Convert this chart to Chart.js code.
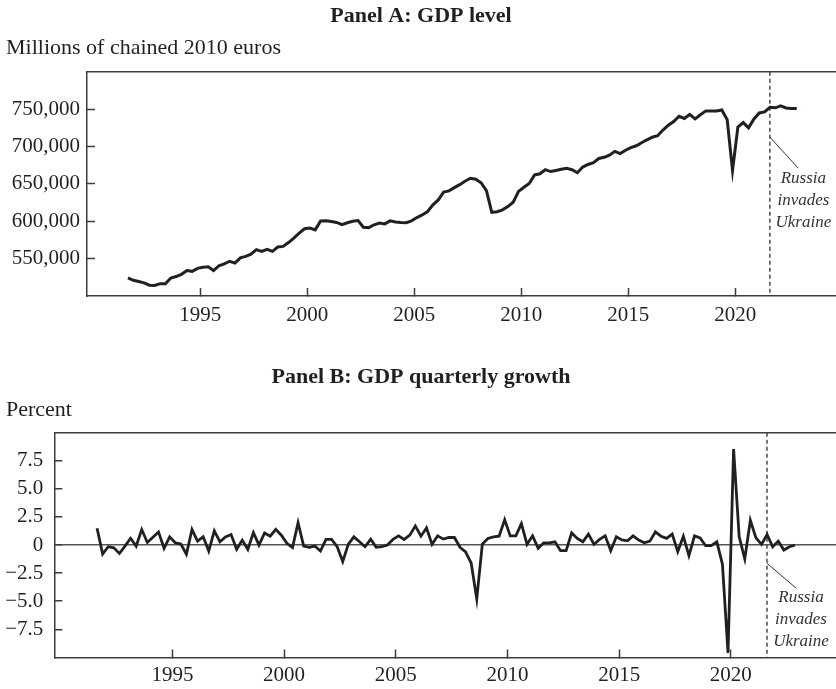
<!DOCTYPE html>
<html>
<head>
<meta charset="utf-8">
<script src="https://cdn.jsdelivr.net/npm/chart.js@4/dist/chart.umd.min.js"></script>
<style>
html,body{margin:0;padding:0;background:#fff;}
#wrap{position:relative;width:836px;height:689px;overflow:hidden;}
canvas{position:absolute;left:0;}
#ca{top:0;}
#cb{top:340px;}
</style>
</head>
<body>
<div id="wrap">
<canvas id="ca" width="836" height="340"></canvas>
<canvas id="cb" width="836" height="349"></canvas>
</div>
<script>
// ---------------- DATA ----------------
const firstYear = 1992;            // first quarter shown: 1992 Q1
// GDP level, millions of chained 2010 euros (quarterly, 1992Q1 ... 2023Q2)
const gdpLevel = [
  524300,521000,519500,517600, 514500,514000,516500,516300,
  524000,526000,529000,534000, 533000,537000,538500,539000,
  534000,540500,543000,546500, 544000,551000,553000,556000,
  562000,559700,562500,559700, 565500,566400,571500,577500,
  584000,590000,591000,588500, 600500,600700,599800,598400,
  595500,598000,600000,601000, 592000,591500,595300,597500,
  596500,600500,599000,598300, 598000,600500,605000,608500,
  613000,622000,628500,639000, 640700,645000,649000,653500,
  657500,656200,651500,641000, 612000,612700,615300,619700,
  625500,640000,645500,650500, 662000,663500,669000,666500,
  668000,669500,671000,669000, 665000,672500,676000,678500,
  684000,685600,688500,693500, 690500,695000,698500,701000,
  705000,709000,712500,714400, 722000,728500,733500,740500,
  737600,743000,737000,742500, 747700,747700,747700,749000,
  736000,668000,726000,732000, 725000,737000,745000,746400,
  752500,751800,754300,751600, 751000,750900
];
// GDP quarterly growth, percent
const gdpGrowth = [
  1.5,-0.8,-0.15,-0.25, -0.75,-0.1,0.6,-0.1,
  1.38,0.23,0.7,1.17, -0.29,0.73,0.2,0.09,
  -0.82,1.38,0.35,0.73, -0.53,1.26,0.29,0.73,
  0.94,-0.38,0.44,-0.38, 1.11,0,1.08,0.79,
  1.4,0.88,0.15,-0.23, 1.99,-0.09,-0.2,-0.09,
  -0.53,0.5,0.5,-0.15, -1.46,0.09,0.73,0.29,
  -0.15,0.53,-0.2,-0.15, 0,0.5,0.82,0.5,
  0.88,1.7,0.79,1.52, 0.06,0.82,0.53,0.67,
  0.67,-0.2,-0.6,-1.6, -4.8,0.09,0.59,0.73,
  0.79,2.25,0.82,0.82, 1.9,0.06,0.82,-0.29,
  0.2,0.2,0.29,-0.5, -0.5,1.08,0.59,0.29,
  0.97,0.06,0.5,0.82, -0.5,0.73,0.45,0.38,
  0.82,0.44,0.2,0.35, 1.17,0.79,0.59,0.97,
  -0.59,0.79,-0.94,0.82, 0.64,-0.06,-0.06,0.29,
  -1.7,-9.6,8.55,0.73, -1.23,2.2,0.64,0.06,
  0.94,-0.15,0.35,-0.44, -0.15,0
];
const xTickYears = [1995, 2000, 2005, 2010, 2015, 2020];
const yTicksLevel = [550000, 600000, 650000, 700000, 750000];
const yTicksGrowth = [-7.5, -5.0, -2.5, 0, 2.5, 5.0, 7.5];
const invasionTime = 2022.12;      // late February 2022
const annotationLines = ['Russia', 'invades', 'Ukraine'];
const xRange = [1990.21, 2025.21];

// quarter categories -> time position (mid-quarter)
const quarterTimes = gdpLevel.map((_, i) => firstYear + Math.floor(i / 4) + ((i % 4) + 0.5) / 4);

// ---------------- STYLE ----------------
const serif = "'Liberation Serif','Times New Roman',Times,serif";
const ink = '#231f20';
const axisCol = '#3d3d3d';
Chart.defaults.font.family = serif;
Chart.defaults.color = ink;

const invasionPlugin = {
  id: 'invasion',
  beforeDatasetsDraw(chart, args, o) {
    const {ctx, chartArea: a} = chart;
    const px = chart.scales.x.getPixelForValue(invasionTime);
    ctx.save();
    ctx.strokeStyle = '#4a4a4a';
    ctx.lineWidth = 1.5;
    ctx.setLineDash([4, 3]);
    ctx.beginPath(); ctx.moveTo(px, a.top); ctx.lineTo(px, a.bottom); ctx.stroke();
    ctx.setLineDash([]);
    ctx.lineWidth = 1;
    ctx.strokeStyle = '#333';
    ctx.beginPath();
    ctx.moveTo(px, a.top + o.leadTop);
    ctx.lineTo(px + o.leadDx, a.top + o.leadBottom);
    ctx.stroke();
    ctx.font = 'italic 400 17px ' + serif;
    ctx.fillStyle = '#333';
    ctx.textAlign = 'center';
    ctx.textBaseline = 'alphabetic';
    annotationLines.forEach((t, i) => ctx.fillText(t, px + o.textDx, a.top + o.textTop + i * o.lineGap));
    ctx.restore();
  }
};

function xScale(h, pad) {
  return {
    type: 'linear', position: 'bottom', min: xRange[0], max: xRange[1],
    afterBuildTicks: s => { s.ticks = xTickYears.map(y => ({value: y + 0.5})); },
    ticks: { callback: (v, i) => String(xTickYears[i]), font: {size: 21}, padding: pad, color: ink, maxRotation: 0, autoSkip: false },
    grid: { drawOnChartArea: false, tickLength: -8, tickColor: axisCol, tickWidth: 1.5 },
    border: { color: axisCol, width: 1.5 },
    afterFit: s => { s.height = h; }
  };
}
const topBorder = {
  type: 'linear', position: 'top', display: true, min: 0, max: 1,
  ticks: { display: false },
  grid: { drawOnChartArea: false, drawTicks: false },
  border: { color: axisCol, width: 1.5 },
  afterFit: s => { s.height = 0; }
};

// ---------------- PANEL A ----------------
new Chart(document.getElementById('ca'), {
  type: 'line',
  data: {
    datasets: [{
      data: quarterTimes.map((x, i) => ({x, y: gdpLevel[i]})),
      borderColor: ink, borderWidth: 3, pointRadius: 0, tension: 0, fill: false
    }]
  },
  options: {
    responsive: false, animation: false, devicePixelRatio: 1,
    layout: { padding: {left: 6, right: 0, top: 0, bottom: 0} },
    scales: {
      x: xScale(44, 15),
      xTop: topBorder,
      y: {
        min: 500000, max: 800000,
        afterBuildTicks: s => { s.ticks = yTicksLevel.map(v => ({value: v})); },
        ticks: { callback: v => v.toLocaleString('en-US'), font: {size: 21}, padding: 15, color: ink },
        grid: { drawOnChartArea: false, tickLength: -8, tickColor: axisCol, tickWidth: 1.5 },
        border: { color: axisCol, width: 1.5 },
        afterFit: s => { s.width = 81; }
      }
    },
    plugins: {
      legend: { display: false },
      tooltip: { enabled: false },
      title: { display: true, text: 'Panel A: GDP level', font: {size: 22, weight: 'bold'}, color: ink, padding: {top: 3, bottom: 3} },
      subtitle: { display: true, text: 'Millions of chained 2010 euros', align: 'start', font: {size: 22, weight: 'normal'}, color: ink, padding: {top: 3, bottom: 10} },
      invasion: { leadTop: 65.3, leadBottom: 96.3, leadDx: 28.3, textDx: 33.5, textTop: 111.5, lineGap: 21.7 }
    }
  },
  plugins: [invasionPlugin]
});

// ---------------- PANEL B ----------------
new Chart(document.getElementById('cb'), {
  type: 'line',
  data: {
    datasets: [{
      data: quarterTimes.map((x, i) => ({x, y: gdpGrowth[i]})),
      borderColor: ink, borderWidth: 2.8, pointRadius: 0, tension: 0, fill: false
    }]
  },
  options: {
    responsive: false, animation: false, devicePixelRatio: 1,
    layout: { padding: {left: 6, right: 0, top: 0, bottom: 0} },
    scales: {
      x: xScale(29, 13.5),
      xTop: topBorder,
      y: {
        min: -10, max: 10,
        afterBuildTicks: s => { s.ticks = yTicksGrowth.map(v => ({value: v})); },
        ticks: {
          callback: v => v === 0 ? '0' : (v < 0 ? '\u2212' : '') + Math.abs(v).toFixed(1),
          font: {size: 21}, padding: 19, color: ink
        },
        grid: {
          drawOnChartArea: true, tickLength: -8, tickColor: axisCol, tickWidth: 1.5,
          color: c => (c.tick && c.tick.value === 0) ? '#555' : 'rgba(0,0,0,0)', lineWidth: 1.5
        },
        border: { color: axisCol, width: 1.5 },
        afterFit: s => { s.width = 48.3; }
      }
    },
    plugins: {
      legend: { display: false },
      tooltip: { enabled: false },
      title: { display: true, text: 'Panel B: GDP quarterly growth', font: {size: 22, weight: 'bold'}, color: ink, padding: {top: 23.8, bottom: 3} },
      subtitle: { display: true, text: 'Percent', align: 'start', font: {size: 22, weight: 'normal'}, color: ink, padding: {top: 3.6, bottom: 9.5} },
      invasion: { leadTop: 130.6, leadBottom: 155.6, leadDx: 29.3, textDx: 34, textTop: 169, lineGap: 22.3 }
    }
  },
  plugins: [invasionPlugin]
});
</script>
</body>
</html>
